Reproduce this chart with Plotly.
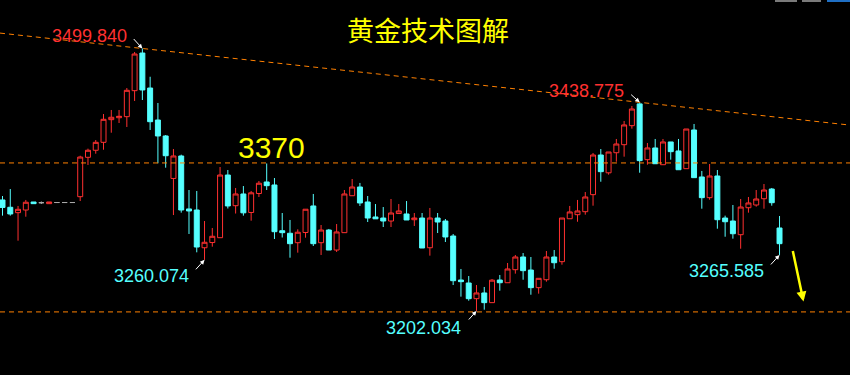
import plotly.graph_objects as go

# ---- data ----
opens = [3328.0, 3319.7, 3313.6, 3316.6, 3325.7, 3324.9, 3323.8, 3325.1, 3325.1, 3325.1,
         3331.7, 3376.4, 3384.4, 3393.4, 3419.1, 3421.3, 3422.5, 3452.0, 3494.7, 3455.0,
         3418.7, 3400.6, 3352.4, 3377.9, 3317.8, 3316.6, 3273.8, 3279.7, 3285.2, 3356.3,
         3321.5, 3334.8, 3313.8, 3335.3, 3348.4, 3345.0, 3293.1, 3290.2, 3279.5, 3291.1,
         3321.2, 3279.5, 3293.9, 3271.2, 3290.9, 3332.8, 3342.7, 3325.7, 3308.7, 3307.5,
         3304.1, 3312.6, 3312.1, 3305.6, 3307.5, 3273.8, 3307.5, 3304.1, 3287.1, 3237.2,
         3233.8, 3216.0, 3222.5, 3211.5, 3237.2, 3234.1, 3248.9, 3263.3, 3248.5, 3228.5,
         3237.5, 3263.3, 3258.0, 3306.7, 3311.3, 3314.7, 3334.0, 3379.0, 3358.8, 3381.6,
         3390.7, 3412.3, 3437.0, 3373.7, 3387.0, 3368.0, 3393.8, 3383.6, 3363.5, 3407.4,
         3354.1, 3330.6, 3355.2, 3307.5, 3304.1, 3288.6, 3319.2, 3322.3, 3329.4, 3340.4,
         3296.2]
highs = [3332.5, 3340.4, 3321.2, 3328.0, 3325.7, 3326.3, 3325.7, 3325.1, 3325.1, 3325.1,
         3378.2, 3386.2, 3396.0, 3425.5, 3430.1, 3430.1, 3455.0, 3495.9, 3499.84, 3467.8,
         3438.0, 3401.7, 3385.8, 3379.4, 3339.3, 3338.2, 3304.1, 3296.2, 3365.4, 3362.0,
         3341.6, 3343.8, 3338.2, 3349.5, 3369.4, 3352.9, 3313.2, 3305.3, 3294.7, 3317.5,
         3334.8, 3299.6, 3295.1, 3300.7, 3339.3, 3351.8, 3347.3, 3332.5, 3323.4, 3320.0,
         3329.1, 3323.4, 3326.8, 3313.2, 3313.2, 3318.9, 3313.2, 3306.4, 3289.4, 3249.7,
         3241.7, 3231.5, 3229.3, 3238.3, 3242.9, 3256.5, 3265.6, 3267.8, 3263.3, 3239.1,
         3270.1, 3271.2, 3307.5, 3321.2, 3328.0, 3337.0, 3381.3, 3385.8, 3382.4, 3397.2,
         3417.6, 3434.6, 3438.775, 3392.6, 3397.2, 3397.2, 3393.8, 3397.2, 3408.5, 3414.2,
         3360.9, 3368.8, 3362.0, 3310.2, 3322.3, 3329.1, 3331.4, 3339.3, 3346.1, 3341.6,
         3309.8]
lows = [3310.2, 3310.2, 3281.8, 3309.0, 3323.8, 3323.4, 3323.8, 3325.1, 3325.1, 3325.1,
        3326.8, 3367.7, 3380.5, 3385.0, 3404.3, 3415.3, 3410.8, 3440.3, 3441.4, 3407.4,
        3369.6, 3364.6, 3310.9, 3313.6, 3289.4, 3268.6, 3260.074, 3275.0, 3285.2, 3318.3,
        3312.6, 3310.2, 3304.5, 3331.4, 3339.3, 3283.7, 3285.4, 3262.5, 3268.2, 3285.2,
        3275.8, 3265.6, 3271.2, 3269.0, 3290.9, 3332.8, 3321.2, 3303.0, 3306.6, 3297.3,
        3297.3, 3312.6, 3305.3, 3298.5, 3273.5, 3264.8, 3290.5, 3280.3, 3231.5, 3218.3,
        3213.7, 3202.034, 3203.5, 3211.5, 3225.1, 3234.1, 3244.4, 3237.5, 3220.5, 3221.7,
        3235.3, 3250.0, 3254.6, 3306.7, 3303.3, 3311.3, 3321.5, 3348.7, 3356.7, 3371.4,
        3377.1, 3408.9, 3358.9, 3368.0, 3369.1, 3368.0, 3373.7, 3362.3, 3363.5, 3353.3,
        3318.1, 3328.3, 3295.4, 3286.3, 3284.1, 3272.7, 3313.6, 3320.4, 3318.1, 3321.5,
        3265.585]
closes = [3319.5, 3312.1, 3317.4, 3325.4, 3323.8, 3324.9, 3325.7, 3325.1, 3325.1, 3325.1,
          3376.7, 3384.4, 3393.4, 3419.5, 3421.8, 3422.9, 3452.4, 3493.6, 3452.8, 3416.8,
          3400.6, 3378.2, 3377.9, 3316.6, 3315.5, 3274.6, 3280.0, 3286.8, 3356.3, 3321.2,
          3334.8, 3313.4, 3336.1, 3347.0, 3344.2, 3292.0, 3290.9, 3278.4, 3291.4, 3317.5,
          3278.4, 3293.9, 3271.2, 3291.7, 3334.8, 3342.7, 3324.6, 3307.5, 3306.6, 3304.1,
          3313.2, 3315.5, 3305.3, 3307.5, 3273.5, 3307.5, 3303.0, 3286.0, 3236.4, 3235.3,
          3216.0, 3222.5, 3211.5, 3237.0, 3234.1, 3249.7, 3263.3, 3247.8, 3228.5, 3239.1,
          3263.3, 3256.8, 3307.5, 3314.4, 3315.5, 3331.4, 3379.0, 3360.1, 3382.4, 3391.5,
          3413.1, 3431.2, 3372.6, 3387.0, 3369.1, 3393.8, 3382.8, 3362.3, 3408.5, 3353.3,
          3330.6, 3355.2, 3305.6, 3303.3, 3289.7, 3320.0, 3324.6, 3329.1, 3339.3, 3324.9,
          3278.4]
gray_idx = [5, 7, 8, 9]            # flat / doji bars drawn in grey
trend_anchor_idx = [18, 82]        # the two highs the falling trendline passes through
level_price = 3370
level_label = "3370"
support_price = 3201
title_text = "黄金技术图解"
# (candle index, price shown, 'high' or 'low')
peak_marks = [(18, "3499.840", "high"), (82, "3438.775", "high"),
              (26, "3260.074", "low"), (61, "3202.034", "low"),
              (100, "3265.585", "low")]

# ---- styling ----
W, H = 850, 375
RED = "#ff3030"
CYAN = "#55ffff"
GRAY = "#a8a8a8"
ORANGE = "#ff8000"
YELLOW = "#ffff00"

n = len(opens)
idx = list(range(n))
XMIN, XMAX = -0.322, 109.07
YMIN, YMAX = 3129.42, 3554.86


def sel(arr, keep):
    return [arr[i] for i in idx if keep(i)]


main = lambda i: i not in gray_idx
grey = lambda i: i in gray_idx

fig = go.Figure()
fig.add_trace(go.Candlestick(
    x=sel(idx, main), open=sel(opens, main), high=sel(highs, main),
    low=sel(lows, main), close=sel(closes, main),
    increasing=dict(line=dict(color=RED, width=1), fillcolor="#000000"),
    decreasing=dict(line=dict(color=CYAN, width=1), fillcolor=CYAN),
    whiskerwidth=0, hoverinfo="skip", showlegend=False))
fig.add_trace(go.Candlestick(
    x=sel(idx, grey), open=sel(opens, grey), high=sel(highs, grey),
    low=sel(lows, grey), close=sel(closes, grey),
    increasing=dict(line=dict(color=GRAY, width=1), fillcolor=GRAY),
    decreasing=dict(line=dict(color=GRAY, width=1), fillcolor=GRAY),
    whiskerwidth=0, hoverinfo="skip", showlegend=False))

# falling trendline through two highs, extended over the whole plot
a, b = trend_anchor_idx
slope = (highs[b] - highs[a]) / (b - a)
y_at = lambda x: highs[a] + slope * (x - a)
shapes = [
    dict(type="line", xref="x", yref="y", x0=XMIN, x1=XMAX, y0=y_at(XMIN), y1=y_at(XMAX),
         line=dict(color=ORANGE, width=1, dash="5px,4px")),
    dict(type="line", xref="paper", yref="y", x0=0, x1=1, y0=level_price, y1=level_price,
         line=dict(color=ORANGE, width=1, dash="5px,4px")),
    dict(type="line", xref="paper", yref="y", x0=0, x1=1, y0=support_price, y1=support_price,
         line=dict(color=ORANGE, width=1, dash="5px,4px")),
    # cut-off toolbar buttons at the top right
    dict(type="rect", xref="paper", yref="paper", x0=775 / W, x1=797 / W, y0=1 - 2 / H, y1=1,
         line=dict(width=0), fillcolor="#7a7a7a"),
    dict(type="rect", xref="paper", yref="paper", x0=802 / W, x1=821 / W, y0=1 - 2 / H, y1=1,
         line=dict(width=0), fillcolor="#7a7a7a"),
    dict(type="rect", xref="paper", yref="paper", x0=827 / W, x1=1, y0=1 - 2 / H, y1=1,
         line=dict(width=0), fillcolor="#1f6fc4"),
]

px = lambda x: x / W
py = lambda y: 1 - y / H


def text_ann(txt, x, y, size, color, family):
    return dict(text=txt, x=px(x), y=py(y), xref="paper", yref="paper",
                xanchor="center", yanchor="middle", showarrow=False,
                font=dict(family=family, size=size, color=color))


annotations = [
    text_ann(title_text, 428, 29, 27, YELLOW, "Noto Sans CJK SC"),
    text_ann(level_label, 271.5, 147, 30, YELLOW, "Liberation Sans"),
    # yellow down arrow
    dict(text="", x=px(803.5), y=py(301.5), xref="paper", yref="paper",
         ax=-11, ay=-52, showarrow=True, arrowhead=2, arrowsize=0.8, arrowwidth=2.5,
         arrowcolor=YELLOW, standoff=0),
]

label_pos = {"3499.840": (89.5, 36), "3438.775": (586.5, 91),
             "3260.074": (151, 276), "3202.034": (423.5, 327.5),
             "3265.585": (726.7, 271)}
arrow_off = {"3499.840": (-10, -11), "3438.775": (-10, -9),
             "3260.074": (-10, 11), "3202.034": (-9, 10),
             "3265.585": (-10, 11)}
for i, txt, kind in peak_marks:
    yv = highs[i] if kind == "high" else lows[i]
    col = RED if kind == "high" else CYAN
    lx, ly = label_pos[txt]
    annotations.append(text_ann(txt, lx, ly, 18, col, "Liberation Sans"))
    ax, ay = arrow_off[txt]
    annotations.append(dict(text="", x=i, y=yv, xref="x", yref="y", ax=ax, ay=ay,
                            showarrow=True, arrowhead=2, arrowsize=0.9, arrowwidth=1,
                            arrowcolor="#ffffff", standoff=0))

fig.update_layout(
    width=W, height=H, margin=dict(l=0, r=0, t=0, b=0, pad=0),
    paper_bgcolor="#000000", plot_bgcolor="#000000",
    xaxis=dict(range=[XMIN, XMAX], visible=False, showgrid=False, zeroline=False,
               rangeslider=dict(visible=False), fixedrange=True),
    yaxis=dict(range=[YMIN, YMAX], visible=False, showgrid=False, zeroline=False,
               fixedrange=True),
    boxgap=0.36, boxgroupgap=0,
    shapes=shapes, annotations=annotations, showlegend=False,
)

fig.write_html("out.html", config={"displayModeBar": False})
